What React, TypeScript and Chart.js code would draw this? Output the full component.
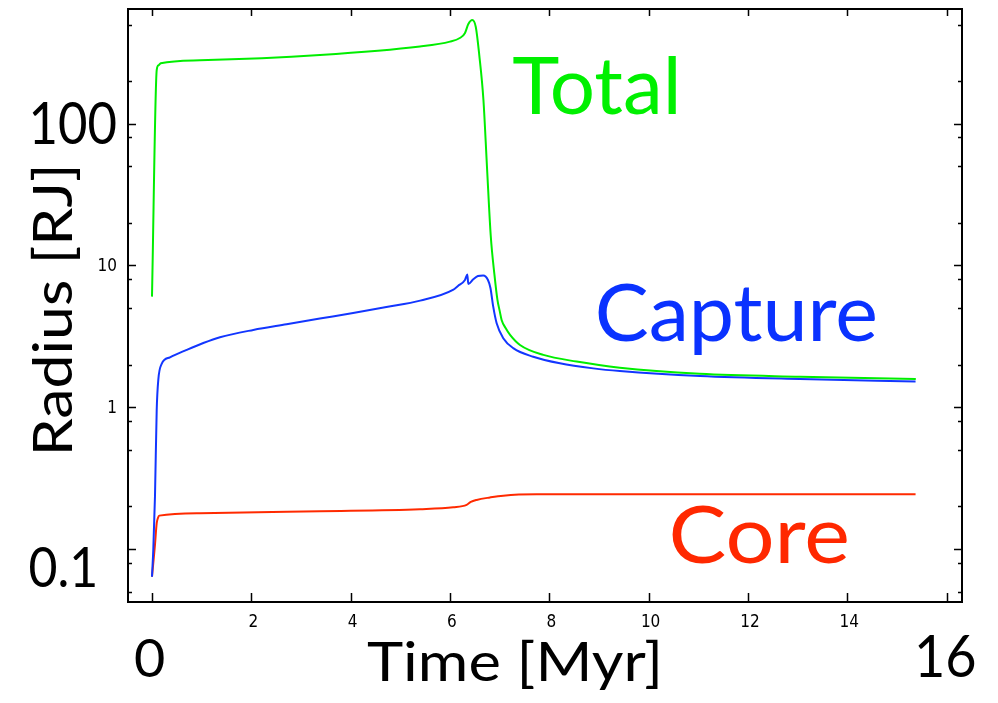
import React, { useEffect, useRef } from 'react';
import { Chart, registerables } from 'chart.js';

Chart.register(...registerables);

// ---- Data (time in Myr, radius in Jupiter radii) ----
const timeTotal = [0, 0.095, 0.131, 0.176, 0.966, 3.382, 5.396, 6.0, 6.2, 6.3, 6.37, 6.45, 6.52, 6.59, 6.674, 6.745, 6.821, 6.896, 6.956, 7.0, 7.04, 7.12, 7.21, 7.41, 7.88, 8.55, 9.42, 11.03, 13.05, 15.38];
const radiusTotal = [6.03, 239, 258, 267, 280, 305, 350, 379, 402, 434, 505, 539, 481, 305, 147, 49.7, 16.2, 8.57, 5.71, 4.8, 4.13, 3.62, 3.24, 2.75, 2.34, 2.1, 1.9, 1.72, 1.64, 1.58];

const timeCapture = [0, 0.026, 0.06, 0.095, 0.127, 0.195, 0.362, 0.699, 1.033, 1.369, 2.04, 2.71, 3.38, 4.05, 4.72, 5.4, 6.06, 6.161, 6.302, 6.349, 6.369, 6.469, 6.563, 6.67, 6.765, 6.815, 6.871, 6.94, 7.073, 7.274, 7.677, 8.214, 8.885, 9.422, 11.033, 13.046, 15.375];
const radiusCapture = [0.0638, 0.0986, 0.234, 0.957, 1.56, 2.02, 2.25, 2.54, 2.84, 3.12, 3.51, 3.85, 4.22, 4.62, 5.09, 5.65, 6.72, 7.17, 7.9, 8.64, 7.41, 7.99, 8.43, 8.5, 7.9, 6.94, 5.12, 3.91, 3.07, 2.61, 2.27, 2.04, 1.88, 1.8, 1.66, 1.58, 1.52];

const timeCore = [0, 0.026, 0.06, 0.095, 0.121, 0.147, 0.966, 3.382, 5.396, 6.066, 6.336, 6.42, 6.537, 6.805, 7.073, 7.745, 15.375];
const radiusCore = [0.0638, 0.0794, 0.107, 0.152, 0.166, 0.172, 0.179, 0.185, 0.191, 0.197, 0.205, 0.215, 0.222, 0.231, 0.238, 0.243, 0.243];

const xTicks = [0, 2, 4, 6, 8, 10, 12, 14, 16];
const xTickLabels = ['', '2', '4', '6', '8', '10', '12', '14', ''];
const yMajorTicks = [0.1, 1, 10, 100];
const yMajorLabels = ['', '1', '10', ''];
const yMinorTicks = [0.05, 0.08, 0.2, 0.5, 0.8, 2, 5, 8, 20, 50, 80, 200, 500];

const seriesNames = ['Total', 'Capture', 'Core'];
const seriesColors = ['#00ee00', '#1236ff', '#ff2a00'];
const labelColors = ['#00f000', '#0a32ff', '#ff2800'];

const BIG_FONT = 'Lato, "Open Sans", sans-serif';
const SMALL_FONT = '"Liberation Sans Narrow", "DejaVu Sans Condensed", "Liberation Sans", sans-serif';

function fitText(
  ctx: CanvasRenderingContext2D,
  text: string,
  left: number,
  right: number,
  baseline: number,
  capHeight: number,
  color: string,
) {
  ctx.save();
  ctx.font = `100px ${BIG_FONT}`;
  const hm = ctx.measureText('H');
  const size = (capHeight / hm.actualBoundingBoxAscent) * 100;
  ctx.font = `${size}px ${BIG_FONT}`;
  const m = ctx.measureText(text);
  const inkW = m.actualBoundingBoxRight + m.actualBoundingBoxLeft;
  const s = (right - left) / inkW;
  ctx.translate(left, baseline);
  ctx.scale(s, 1);
  ctx.fillStyle = color;
  ctx.textAlign = 'left';
  ctx.textBaseline = 'alphabetic';
  ctx.fillText(text, m.actualBoundingBoxLeft, 0);
  ctx.restore();
}

const framePlugin = {
  id: 'framePlugin',
  afterDraw(chart: any) {
    const ctx: CanvasRenderingContext2D = chart.ctx;
    const { left, right, top, bottom } = chart.chartArea;
    const xs = chart.scales.x;
    const ys = chart.scales.y;
    ctx.save();
    ctx.strokeStyle = '#000';
    ctx.lineWidth = 1.5;
    // ticks
    ctx.beginPath();
    xTicks.forEach((v) => {
      const px = Math.round(xs.getPixelForValue(v)) + 0.5;
      ctx.moveTo(px, bottom);
      ctx.lineTo(px, bottom - 9);
      ctx.moveTo(px, top);
      ctx.lineTo(px, top + 7);
    });
    yMajorTicks.forEach((v) => {
      const py = Math.round(ys.getPixelForValue(v)) + 0.5;
      ctx.moveTo(left, py);
      ctx.lineTo(left + 8, py);
      ctx.moveTo(right, py);
      ctx.lineTo(right - 8, py);
    });
    yMinorTicks.forEach((v) => {
      const py = Math.round(ys.getPixelForValue(v)) + 0.5;
      ctx.moveTo(left, py);
      ctx.lineTo(left + 4, py);
      ctx.moveTo(right, py);
      ctx.lineTo(right - 4, py);
    });
    ctx.stroke();
    // frame
    ctx.lineWidth = 2;
    ctx.strokeRect(left, top, right - left, bottom - top);

    // small tick labels
    ctx.fillStyle = '#000';
    ctx.font = `17px ${SMALL_FONT}`;
    ctx.textAlign = 'center';
    ctx.textBaseline = 'alphabetic';
    xTicks.forEach((v, i) => {
      if (!xTickLabels[i]) return;
      ctx.fillText(xTickLabels[i], xs.getPixelForValue(v) + 2, bottom + 25);
    });
    ctx.textAlign = 'right';
    ctx.textBaseline = 'middle';
    yMajorTicks.forEach((v, i) => {
      if (!yMajorLabels[i]) return;
      ctx.fillText(yMajorLabels[i], left - 11, ys.getPixelForValue(v) + 1);
    });
    ctx.restore();

    // big tick labels
    const x0 = xs.getPixelForValue(0);
    const x16 = xs.getPixelForValue(16);
    fitText(ctx, '0', x0 - 17, x0 + 12, 676.7, 38, '#000');
    fitText(ctx, '16', x16 - 29, x16 + 28, 677, 43, '#000');
    fitText(ctx, '100', 32, 116, 144.3, 43, '#000');
    fitText(ctx, '0.1', 29.3, 95, 586.7, 41, '#000');

    // axis titles
    fitText(ctx, 'Time [Myr]', 367, 658, 681, 39, '#000');
    ctx.save();
    ctx.translate(71.7, 451.7);
    ctx.rotate(-Math.PI / 2);
    fitText(ctx, 'Radius [RJ]', 0, 451.7 - 168.3, 0, 39, '#000');
    ctx.restore();

    // series labels
    fitText(ctx, seriesNames[0], 513.3, 675.7, 114, 58, labelColors[0]);
    fitText(ctx, seriesNames[1], 597.7, 875, 340.7, 58, labelColors[1]);
    fitText(ctx, seriesNames[2], 671.7, 846.7, 563.3, 58, labelColors[2]);
  },
};

export default function App() {
  const ref = useRef<HTMLCanvasElement>(null);
  useEffect(() => {
    const canvas = ref.current;
    if (!canvas) return;
    const mk = (ts: number[], rs: number[]) => ts.map((t, i) => ({ x: t, y: rs[i] }));
    const chart = new Chart(canvas, {
      type: 'scatter',
      data: {
        datasets: [
          { label: seriesNames[0], data: mk(timeTotal, radiusTotal) },
          { label: seriesNames[1], data: mk(timeCapture, radiusCapture) },
          { label: seriesNames[2], data: mk(timeCore, radiusCore) },
        ].map((d, i) => ({
          ...d,
          showLine: true,
          borderColor: seriesColors[i],
          backgroundColor: seriesColors[i],
          borderWidth: 2,
          pointRadius: 0,
          cubicInterpolationMode: 'monotone' as const,
        })),
      },
      options: {
        animation: false,
        responsive: false,
        devicePixelRatio: 1,
        layout: { padding: { left: 128, right: 36, top: 9, bottom: 101 } },
        plugins: { legend: { display: false }, tooltip: { enabled: false } },
        scales: {
          x: { type: 'linear', min: -0.483, max: 16.31, display: false },
          y: { type: 'logarithmic', min: 0.0423, max: 644, display: false },
        },
      },
      plugins: [framePlugin],
    });
    return () => chart.destroy();
  }, []);
  return (
    <div style={{ position: 'fixed', left: 0, top: 0, width: 998, height: 703, background: '#fff' }}>
      <canvas ref={ref} width={998} height={703} style={{ display: 'block', width: 998, height: 703 }} />
    </div>
  );
}
